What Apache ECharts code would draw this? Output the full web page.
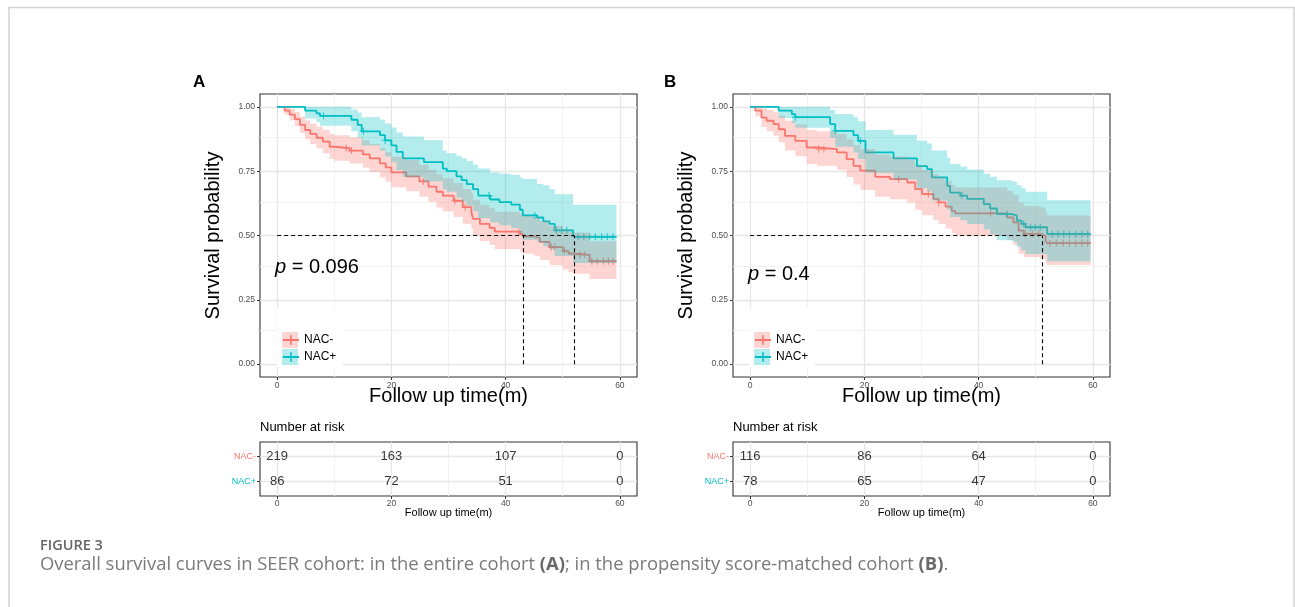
<!DOCTYPE html>
<html><head><meta charset="utf-8">
<script src="https://cdn.jsdelivr.net/npm/echarts@6/dist/echarts.min.js"></script>
<style>html,body{margin:0;padding:0;background:#fff}#c{width:1295px;height:607px}</style>
</head><body><div id="c"></div>
<script>
// ---------- DATA ----------
var groups = ['NAC-', 'NAC+'];
var xTicks = [0, 20, 40, 60];
var xMinor = [10, 30, 50];
var yTicks = [0, 0.25, 0.5, 0.75, 1];
var yMinor = [0.125, 0.375, 0.625, 0.875];

// rows: [time, survival, lower CI, upper CI]  (panel A, entire cohort)
var aNeg = [
 [0,1,1,1],[1.3,0.985,0.969,1],[2.2,0.97,0.948,0.993],[3.1,0.952,0.925,0.98],[4.0,0.93,0.898,0.963],
 [4.9,0.91,0.874,0.947],[5.8,0.895,0.856,0.935],[6.9,0.88,0.838,0.923],[8.0,0.865,0.82,0.911],
 [9.2,0.845,0.797,0.895],[10.0,0.84,0.791,0.89],[12.7,0.83,0.78,0.882],[15.0,0.815,0.763,0.869],
 [16.2,0.80,0.747,0.856],[18.0,0.78,0.725,0.838],[19.0,0.765,0.709,0.824],[20.0,0.745,0.688,0.806],
 [22.6,0.73,0.672,0.793],[24.9,0.71,0.651,0.774],[26.5,0.69,0.63,0.756],[27.9,0.67,0.609,0.737],
 [29.0,0.655,0.593,0.723],[30.9,0.635,0.572,0.704],[32.5,0.61,0.546,0.681],[34.0,0.59,0.525,0.662],
 [34.3,0.565,0.499,0.639],[35.5,0.545,0.479,0.62],[37.2,0.53,0.463,0.606],[38.1,0.515,0.448,0.592],
 [42.5,0.505,0.437,0.583],[43.1,0.497,0.429,0.576],[45.0,0.49,0.421,0.57],[46.0,0.475,0.405,0.556],
 [47.7,0.455,0.384,0.538],[50.0,0.44,0.368,0.525],[51.0,0.43,0.357,0.516],[51.8,0.425,0.351,0.512],
 [54.7,0.40,0.331,0.478],[59.4,0.40,0.331,0.478]
];
var aPos = [
 [0,1,1,1],[4.9,0.985,0.955,1],[6.9,0.975,0.94,1],[7.5,0.965,0.927,1],[13.0,0.95,0.905,0.99],
 [14.1,0.93,0.88,0.978],[14.8,0.905,0.85,0.96],[18.0,0.89,0.83,0.95],[18.9,0.87,0.807,0.935],
 [20.0,0.85,0.785,0.92],[20.9,0.825,0.755,0.9],[22.0,0.80,0.727,0.885],[25.7,0.785,0.71,0.87],
 [29.0,0.76,0.68,0.83],[29.7,0.75,0.67,0.82],[31.4,0.73,0.648,0.81],[32.3,0.715,0.632,0.80],
 [33.2,0.70,0.616,0.79],[34.3,0.68,0.594,0.775],[35.2,0.655,0.567,0.76],[37.3,0.64,0.551,0.745],
 [38.9,0.63,0.54,0.74],[41.0,0.62,0.529,0.735],[42.5,0.60,0.507,0.725],[43.0,0.578,0.483,0.72],
 [45.5,0.57,0.474,0.70],[46.6,0.555,0.458,0.695],[47.7,0.545,0.447,0.68],[48.6,0.52,0.42,0.66],
 [51.8,0.495,0.393,0.62],[59.4,0.495,0.393,0.62]
];
var aNegCensor = [12.1,13.0,25.6,31.1,32.9,42.3,48.0,48.6,50.3,53.0,53.8,55.1,56.0,57.1,58.0,58.8];
var aPosCensor = [8.1,15.1,18.9,37.1,45.1,48.9,49.8,50.7,52.7,53.7,54.7,55.7,56.8,57.8,58.8];
var aMedians = [43.1, 52.0];
var aPValue = '0.096';
var aRiskNeg = [219, 163, 107, 0];
var aRiskPos = [86, 72, 51, 0];

// panel B, propensity score-matched cohort
var bNeg = [
 [0,1,1,1],[0.9,0.985,0.963,1],[2.0,0.958,0.922,0.995],[2.9,0.946,0.905,0.988],[4.1,0.933,0.888,0.98],
 [5.0,0.913,0.862,0.966],[6.1,0.887,0.83,0.946],[7.9,0.868,0.808,0.932],[9.9,0.842,0.778,0.91],
 [11.7,0.836,0.771,0.905],[15.2,0.823,0.756,0.895],[16.9,0.797,0.727,0.874],[18.1,0.771,0.698,0.852],
 [19.3,0.752,0.677,0.836],[21.9,0.728,0.651,0.815],[24.5,0.719,0.641,0.807],[27.5,0.706,0.627,0.795],
 [28.9,0.68,0.6,0.772],[30.1,0.661,0.579,0.755],[32.1,0.642,0.559,0.738],[33.0,0.629,0.545,0.726],
 [34.2,0.612,0.527,0.711],[35.3,0.596,0.51,0.696],[35.9,0.586,0.5,0.687],[45.0,0.57,0.483,0.673],
 [46.1,0.551,0.463,0.656],[47.0,0.519,0.43,0.627],[47.9,0.506,0.416,0.615],[50.8,0.499,0.409,0.609],
 [51.7,0.48,0.392,0.592],[52.0,0.47,0.385,0.578],[59.6,0.47,0.385,0.578]
];
var bPos = [
 [0,1,1,1],[5.0,0.985,0.957,1],[7.3,0.972,0.937,1],[7.9,0.96,0.919,1],[14.0,0.933,0.88,0.988],
 [14.9,0.907,0.845,0.972],[18.1,0.89,0.823,0.96],[18.9,0.868,0.797,0.944],[20.2,0.823,0.744,0.91],
 [25.1,0.80,0.718,0.892],[29.2,0.77,0.684,0.868],[31.0,0.758,0.671,0.858],[31.8,0.726,0.636,0.83],
 [34.5,0.693,0.6,0.802],[35.0,0.667,0.572,0.778],[36.8,0.655,0.559,0.768],[38.0,0.642,0.545,0.757],
 [40.9,0.622,0.523,0.74],[42.0,0.605,0.505,0.728],[43.2,0.583,0.482,0.715],[45.9,0.577,0.476,0.71],
 [46.7,0.558,0.456,0.695],[47.5,0.545,0.442,0.685],[48.2,0.532,0.428,0.67],[52.0,0.506,0.4,0.637],
 [59.6,0.506,0.4,0.637]
];
var bNegCensor = [12.0,12.9,26.0,31.2,33.0,42.1,48.2,49.4,50.5,52.5,53.6,54.8,55.9,57.0,58.1,59.1];
var bPosCensor = [7.9,14.9,19.3,37.1,45.0,47.9,49.1,49.9,50.8,52.9,53.9,54.9,55.9,57.0,58.1,59.1];
var bMedians = [51.1];
var bPValue = '0.4';
var bRiskNeg = [116, 86, 64, 0];
var bRiskPos = [78, 65, 47, 0];

var riskTimes = [0, 20, 40, 60];

// ---------- STYLE ----------
var RED = '#F8766D', CYAN = '#00BFC4';
var RED_BAND = 'rgba(248,118,109,0.3)', CYAN_BAND = 'rgba(0,191,196,0.3)';
var FONT = 'Liberation Sans, Arial, Helvetica, sans-serif';
var PLUS = 'path://M0,4.2H10V5.8H0Z M4.2,0H5.8V10H4.2Z';

function survAt(rows, t) {
  var v = rows[0][1];
  for (var i = 0; i < rows.length; i++) { if (rows[i][0] <= t) v = rows[i][1]; }
  return v;
}

var chart = echarts.init(document.getElementById('c'), null, {renderer: 'canvas'});

function xAxisDef(gi, name, nameSize, nameGap, labelMargin) {
  return {
    type: 'value', gridIndex: gi, min: -3, max: 63,
    axisLine: {show: false, onZero: false},
    axisTick: {show: true, customValues: xTicks, length: 3, lineStyle: {color: '#333', width: 1}},
    axisLabel: {customValues: xTicks, fontSize: 8.5, color: '#4d4d4d', margin: labelMargin, fontFamily: FONT},
    splitLine: {show: false},
    name: name, nameLocation: 'middle', nameGap: nameGap, nameMoveOverlap: false,
    nameTextStyle: {fontSize: nameSize, color: '#000', fontFamily: FONT}
  };
}
function yAxisMain(gi) {
  return {
    type: 'value', gridIndex: gi, min: -0.05, max: 1.05,
    axisLine: {show: false, onZero: false},
    axisTick: {show: true, customValues: yTicks, length: 3, lineStyle: {color: '#333', width: 1}},
    axisLabel: {customValues: yTicks, fontSize: 8.5, color: '#4d4d4d', margin: 5, fontFamily: FONT,
      formatter: function (v) { return (+v).toFixed(2); }},
    splitLine: {show: false},
    name: 'Survival probability', nameLocation: 'middle', nameRotate: 90, nameGap: 37,
    nameTextStyle: {fontSize: 20, color: '#000', fontFamily: FONT}
  };
}
function yAxisTable(gi) {
  return {
    type: 'value', gridIndex: gi, min: 0.4, max: 2.6,
    axisLine: {show: false, onZero: false},
    axisTick: {show: true, customValues: [1, 2], length: 3, lineStyle: {color: '#333', width: 1}},
    axisLabel: {customValues: [1, 2], fontSize: 9, margin: 4, fontFamily: FONT,
      formatter: function (v) { return +v === 2 ? groups[0] : groups[1]; },
      color: function (v) { return (+v === 2 || v === groups[0]) ? RED : CYAN; }},
    splitLine: {show: false}
  };
}

function gridLines(xi, yi, hMajor, hMinor) {
  var d = [];
  xTicks.forEach(function (v) { d.push({xAxis: v, lineStyle: {color: '#e6e6e6', width: 1.3}}); });
  xMinor.forEach(function (v) { d.push({xAxis: v, lineStyle: {color: '#f1f1f1', width: 0.9}}); });
  hMajor.forEach(function (v) { d.push({yAxis: v, lineStyle: {color: '#e6e6e6', width: 1.3}}); });
  hMinor.forEach(function (v) { d.push({yAxis: v, lineStyle: {color: '#f1f1f1', width: 0.9}}); });
  return {
    type: 'line', xAxisIndex: xi, yAxisIndex: yi, data: [], silent: true, z: 0,
    markLine: {silent: true, z: 0, symbol: ['none', 'none'], label: {show: false}, animation: false,
      lineStyle: {type: 'solid'}, data: d}
  };
}

function band(rows, color, xi, yi, z) {
  return {
    type: 'custom', xAxisIndex: xi, yAxisIndex: yi, silent: true, z: z,
    data: [[0, 0]],
    renderItem: function (params, api) {
      var up = [], lo = [];
      for (var i = 0; i < rows.length; i++) {
        var t0 = rows[i][0], t1 = i + 1 < rows.length ? rows[i + 1][0] : rows[i][0];
        up.push(api.coord([t0, rows[i][3]]), api.coord([t1, rows[i][3]]));
        lo.push(api.coord([t0, rows[i][2]]), api.coord([t1, rows[i][2]]));
      }
      return {type: 'polygon', shape: {points: up.concat(lo.reverse())}, style: {fill: color}};
    }
  };
}

function curve(name, rows, color, xi, yi) {
  return {
    type: 'line', name: name, xAxisIndex: xi, yAxisIndex: yi, step: 'end', z: 2,
    data: rows.map(function (r) { return [r[0], r[1]]; }),
    symbol: PLUS, symbolSize: 9, showSymbol: false,
    itemStyle: {color: color}, lineStyle: {color: color, width: 1.8}, silent: true
  };
}

function censor(name, rows, times, color, xi, yi) {
  return {
    type: 'scatter', name: name + ' censor', xAxisIndex: xi, yAxisIndex: yi, z: 2, silent: true,
    symbol: PLUS, symbolSize: 7, itemStyle: {color: color},
    data: times.map(function (t) { return [t, survAt(rows, t)]; })
  };
}

function medians(meds, xi, yi) {
  var maxMed = Math.max.apply(null, meds);
  var d = [{coords: [[0, 0.5], [maxMed, 0.5]]}];
  meds.forEach(function (m) { d.push({coords: [[m, 0], [m, 0.5]]}); });
  return {
    type: 'lines', coordinateSystem: 'cartesian2d', xAxisIndex: xi, yAxisIndex: yi, z: 6, silent: true,
    lineStyle: {color: '#000', width: 1.1, type: [4, 3], opacity: 1}, data: d
  };
}

function riskNums(riskNeg, riskPos, xi, yi) {
  var d = [];
  riskTimes.forEach(function (t, i) { d.push([t, 2, riskNeg[i]]); d.push([t, 1, riskPos[i]]); });
  return {
    type: 'scatter', xAxisIndex: xi, yAxisIndex: yi, z: 10, silent: true,
    symbolSize: 1, itemStyle: {color: 'rgba(0,0,0,0)'},
    label: {show: true, position: 'inside', fontSize: 13, color: '#000', fontFamily: FONT,
      formatter: function (p) { return String(p.value[2]); }},
    data: d
  };
}

var grids = [
  {left: 260, top: 94, width: 377, height: 283},
  {left: 260, top: 442, width: 377, height: 54},
  {left: 733, top: 94, width: 377, height: 283},
  {left: 733, top: 442, width: 377, height: 54}
].map(function (g) {
  g.show = true; g.borderColor = '#333'; g.borderWidth = 1.1; g.backgroundColor = 'transparent';
  g.containLabel = false; return g;
});

var series = [
  gridLines(0, 0, yTicks, yMinor),
  gridLines(1, 1, [1, 2], []),
  gridLines(2, 2, yTicks, yMinor),
  gridLines(3, 3, [1, 2], []),
  // panel A
  curve(groups[0], aNeg, RED, 0, 0),
  curve(groups[1], aPos, CYAN, 0, 0),
  censor(groups[0], aNeg, aNegCensor, RED, 0, 0),
  censor(groups[1], aPos, aPosCensor, CYAN, 0, 0),
  band(aNeg, RED_BAND, 0, 0, 3),
  band(aPos, CYAN_BAND, 0, 0, 4),
  medians(aMedians, 0, 0),
  riskNums(aRiskNeg, aRiskPos, 1, 1),
  // panel B
  curve(groups[0], bNeg, RED, 2, 2),
  curve(groups[1], bPos, CYAN, 2, 2),
  censor(groups[0], bNeg, bNegCensor, RED, 2, 2),
  censor(groups[1], bPos, bPosCensor, CYAN, 2, 2),
  band(bNeg, RED_BAND, 2, 2, 3),
  band(bPos, CYAN_BAND, 2, 2, 4),
  medians(bMedians, 2, 2),
  riskNums(bRiskNeg, bRiskPos, 3, 3)
];

function legendDef(left) {
  return {
    left: left, top: 334, orient: 'vertical', itemWidth: 16, itemHeight: 12, itemGap: 5,
    padding: 0, selectedMode: false, z: 6,
    textStyle: {fontSize: 12, color: '#000', fontFamily: FONT},
    data: groups
  };
}

function keyBoxes(x) {
  return [
    {type: 'rect', z: 5, z2: 0, silent: true, shape: {x: x - 5, y: 308, width: 66, height: 59}, style: {fill: '#fff'}},
    {type: 'rect', z: 5, z2: 1, silent: true, shape: {x: x, y: 332, width: 16, height: 16}, style: {fill: RED_BAND}},
    {type: 'rect', z: 5, z2: 1, silent: true, shape: {x: x, y: 349, width: 16, height: 16}, style: {fill: CYAN_BAND}}
  ];
}

var graphics = [
  {type: 'polyline', silent: true, shape: {points: [[9, 607], [9, 7.5], [1294, 7.5], [1294, 607]]},
    style: {stroke: '#d4d4d4', lineWidth: 1.5, fill: null}},
  {type: 'text', x: 193, y: 82, style: {text: 'A', font: 'bold 17px ' + FONT, fill: '#000', verticalAlign: 'middle'}},
  {type: 'text', x: 664, y: 82, style: {text: 'B', font: 'bold 17px ' + FONT, fill: '#000', verticalAlign: 'middle'}},
  {type: 'text', x: 275, y: 267, z: 7, style: {text: '{i|p} = ' + aPValue, font: '20px ' + FONT, fill: '#000', verticalAlign: 'middle',
    rich: {i: {fontStyle: 'italic', fontSize: 20, fontFamily: FONT}}}},
  {type: 'text', x: 748, y: 274, z: 7, style: {text: '{i|p} = ' + bPValue, font: '20px ' + FONT, fill: '#000', verticalAlign: 'middle',
    rich: {i: {fontStyle: 'italic', fontSize: 20, fontFamily: FONT}}}},
  {type: 'text', x: 260, y: 427, style: {text: 'Number at risk', font: '13px ' + FONT, fill: '#000', verticalAlign: 'middle'}},
  {type: 'text', x: 733, y: 427, style: {text: 'Number at risk', font: '13px ' + FONT, fill: '#000', verticalAlign: 'middle'}},
  {type: 'text', x: 40, y: 546, style: {text: 'FIGURE 3', font: '600 14.5px "Open Sans", sans-serif', fill: '#666', verticalAlign: 'middle'}},
  {type: 'text', x: 40, y: 565, style: {
    text: 'Overall survival curves in SEER cohort: in the entire cohort {b|(A)}; in the propensity score-matched cohort {b|(B)}.',
    font: '18.4px "Open Sans", sans-serif', fill: '#7a7a7a', verticalAlign: 'middle',
    rich: {b: {fontWeight: 'bold', fontSize: 18.4, fontFamily: 'Open Sans', fill: '#6a6a6a', color: '#6a6a6a'}}}}
].concat(keyBoxes(282)).concat(keyBoxes(754));

chart.setOption({
  animation: false,
  backgroundColor: '#fff',
  grid: grids,
  xAxis: [
    xAxisDef(0, 'Follow up time(m)', 20, 9, 4),
    xAxisDef(1, 'Follow up time(m)', 11, 11, 3),
    xAxisDef(2, 'Follow up time(m)', 20, 9, 4),
    xAxisDef(3, 'Follow up time(m)', 11, 11, 3)
  ],
  yAxis: [yAxisMain(0), yAxisTable(1), yAxisMain(2), yAxisTable(3)],
  legend: [legendDef(282), legendDef(754)],
  graphic: graphics,
  series: series
});
</script></body></html>
